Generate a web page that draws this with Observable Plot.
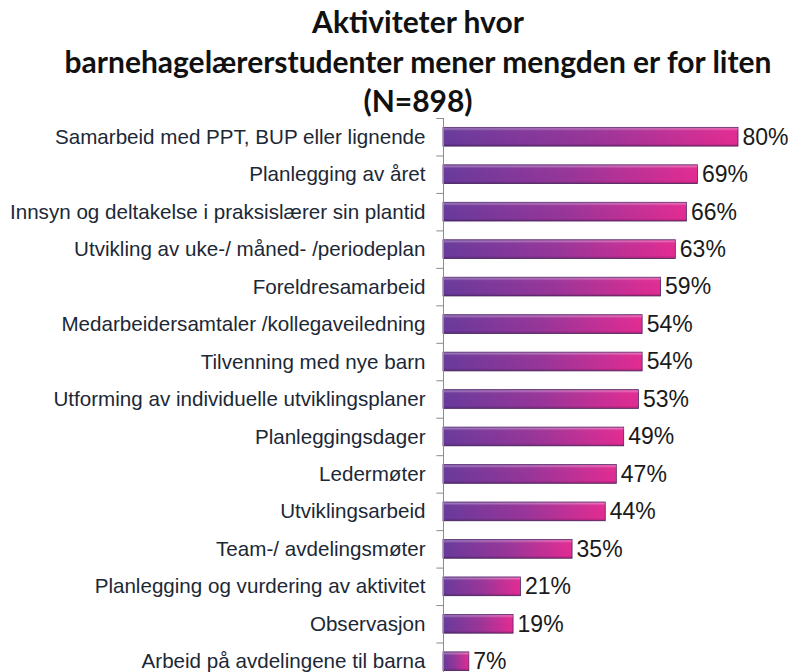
<!DOCTYPE html>
<html><head><meta charset="utf-8">
<script src="https://cdn.jsdelivr.net/npm/d3@7"></script>
<script src="https://cdn.jsdelivr.net/npm/@observablehq/plot@0.6"></script>
<style>
body{margin:0;background:#fff;}
#title{height:118px;box-sizing:border-box;padding-top:2px;padding-left:46px;text-align:center;font-family:Lato,"Open Sans",sans-serif;font-weight:bold;font-size:30px;line-height:39.5px;color:#111;white-space:nowrap;}
#chart svg{display:block;overflow:visible;}
</style></head><body>
<div id="title">Aktiviteter hvor<br>barnehagelærerstudenter mener mengden er for liten<br>(N=898)</div>
<div id="chart"></div>
<script>
const categories = [
  "Samarbeid med PPT, BUP eller lignende",
  "Planlegging av året",
  "Innsyn og deltakelse i praksislærer sin plantid",
  "Utvikling av uke-/ måned- /periodeplan",
  "Foreldresamarbeid",
  "Medarbeidersamtaler /kollegaveiledning",
  "Tilvenning med nye barn",
  "Utforming av individuelle utviklingsplaner",
  "Planleggingsdager",
  "Ledermøter",
  "Utviklingsarbeid",
  "Team-/ avdelingsmøter",
  "Planlegging og vurdering av aktivitet",
  "Observasjon",
  "Arbeid på avdelingene til barna"
];
const values = [80, 69, 66, 63, 59, 54, 54, 53, 49, 47, 44, 35, 21, 19, 7];
const valueLabels = values.map(v => v + "%");

const data = categories.map((c, i) => ({cat: c, value: values[i], label: valueLabels[i]}));
const H = 562;
const step = H / categories.length;

const defs = () => {
  const d = d3.create("svg:defs");
  const g = d.append("linearGradient").attr("id", "barGrad").attr("x1", 0).attr("x2", 1).attr("y1", 0).attr("y2", 0);
  g.append("stop").attr("offset", "0%").attr("stop-color", "#683a9b");
  g.append("stop").attr("offset", "50%").attr("stop-color", "#983599");
  g.append("stop").attr("offset", "100%").attr("stop-color", "#e32b92");
  const h = d.append("linearGradient").attr("id", "hlGrad").attr("x1", 0).attr("x2", 0).attr("y1", 0).attr("y2", 1);
  h.append("stop").attr("offset", "0%").attr("stop-color", "#fff").attr("stop-opacity", 0.1);
  h.append("stop").attr("offset", "8%").attr("stop-color", "#fff").attr("stop-opacity", 0.3);
  h.append("stop").attr("offset", "18%").attr("stop-color", "#fff").attr("stop-opacity", 0.02);
  h.append("stop").attr("offset", "85%").attr("stop-color", "#000").attr("stop-opacity", 0);
  h.append("stop").attr("offset", "100%").attr("stop-color", "#000").attr("stop-opacity", 0.22);
  return d.node();
};

const chart = Plot.plot({
  width: 790,
  height: H,
  marginTop: 0,
  marginBottom: 0,
  marginLeft: 443,
  marginRight: 52,
  style: {fontFamily: "'Liberation Sans', Arial, sans-serif", overflow: "visible"},
  x: {domain: [0, 80], axis: null},
  y: {domain: categories, paddingInner: 0.5, paddingOuter: 0.25, round: false, axis: null},
  marks: [
    defs,
    Plot.barX(data, {y: "cat", x: "value", fill: "url(#barGrad)", stroke: "#4d2466", strokeWidth: 0.8}),
    Plot.barX(data, {y: "cat", x: "value", fill: "url(#hlGrad)"}),
    Plot.ruleX([0], {stroke: "#8c8c8c", strokeWidth: 1}),
    Plot.ruleY(categories, {y: d => d, x1: -1.8, x2: 0, dy: -step / 2, stroke: "#8c8c8c", strokeWidth: 1}),
    Plot.text(categories, {y: d => d, x: 0, text: d => d, textAnchor: "end", dx: -18, fontSize: 20.6, fill: "#1c2836"}),
    Plot.text(data, {y: "cat", x: "value", text: "label", textAnchor: "start", dx: 4, fontSize: 23, fill: "#1a1a1a"})
  ]
});
document.getElementById("chart").appendChild(chart);
</script>
</body></html>
